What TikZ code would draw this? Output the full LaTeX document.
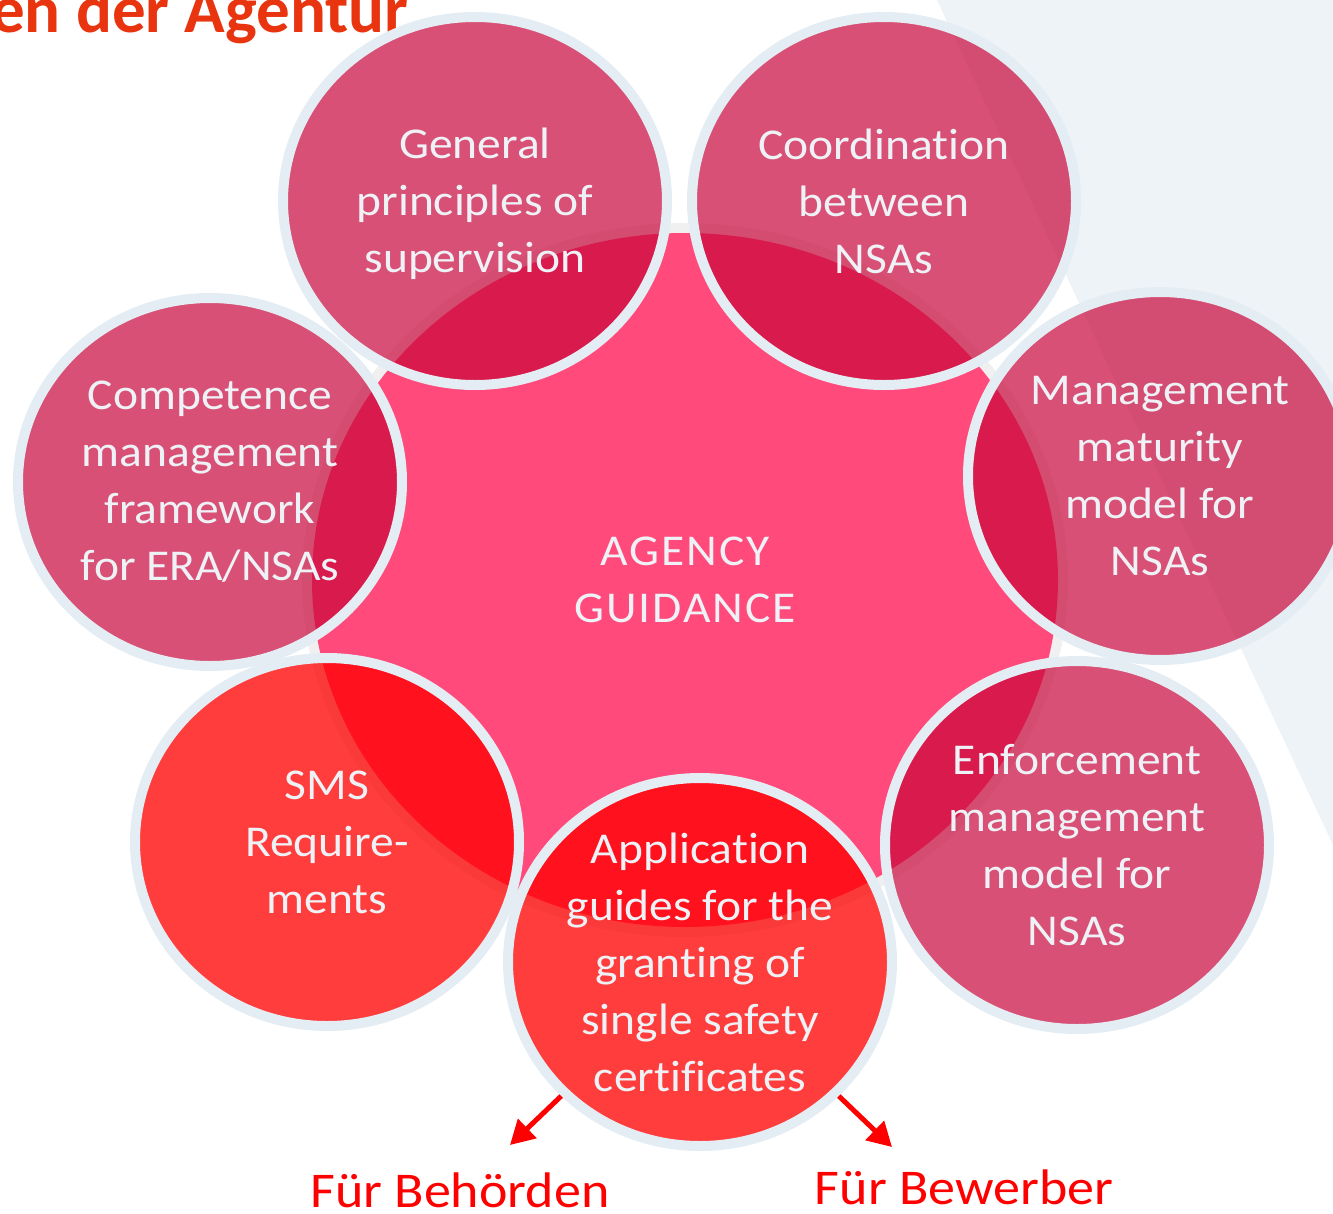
\documentclass[tikz,border=0pt]{standalone}
\usepackage{fontspec}
\setmainfont{Carlito}
\newfontfamily\bubfont[FakeStretch=1.08, Ligatures=NoCommon]{Carlito}
\usetikzlibrary{arrows.meta, shapes.geometric}

\definecolor{guidepink}{RGB}{255,74,123}
\definecolor{bubblerose}{RGB}{200,6,58}
\definecolor{bubblered}{RGB}{255,0,0}
\definecolor{rimgrey}{RGB}{228,237,243}
\definecolor{paletext}{RGB}{238,242,246}
\definecolor{backpale}{RGB}{238,243,247}
\definecolor{titleorange}{RGB}{232,52,15}

\begin{document}
\begin{tikzpicture}[x=1pt, y=-1pt, >={Triangle[length=24pt,width=26pt]},
  bubble/.style={ellipse, minimum width=384pt, minimum height=368pt, inner sep=0pt,
    draw=rimgrey, line width=10pt, fill=bubblerose, fill opacity=0.7},
  redbubble/.style={bubble, fill=bubblered, fill opacity=0.76},
  bubtext/.style={align=center, text=paletext, inner sep=0pt,
    font=\bubfont\fontsize{44}{57}\selectfont},
  flowarrow/.style={->, draw=bubblered, line width=5pt},
  outlabel/.style={anchor=base, text=bubblered, inner sep=0pt,
    font=\bubfont\fontsize{50}{50}\selectfont}]
  \useasboundingbox (0,0) rectangle (1333,1213);
  \clip (0,0) rectangle (1333,1213);

  % pale wedge at the right
  \fill[backpale] (937,0) -- (1333,0) -- (1333,845) -- cycle;
  % heading, cut at the top
  \node[anchor=base west, inner sep=0pt, text=titleorange,
    font=\bfseries\fontsize{67}{67}\selectfont] (heading) at (-9,32) {en der Agentur};

  % central disc with its soft rim
  \draw[black, draw opacity=0.06, line width=10pt] (685,580) ellipse [x radius=378, y radius=352];
  \fill[guidepink] (685,580) ellipse [x radius=373, y radius=347];

  % surrounding bubbles, clockwise from the top
  \node[bubble] (general) at (475,201) {};
  \node[bubble] (coord) at (884,201) {};
  \node[bubble] (maturity) at (1160,476) {};
  \node[bubble] (enforce) at (1077,845) {};
  \node[bubble] (compet) at (210,482) {};
  \node[redbubble] (sms) at (327,842) {};
  \node[redbubble] (appl) at (700,962) {};

  % texts
  \node[bubtext, font=\bubfont\fontsize{44}{57}\selectfont\addfontfeature{LetterSpace=4.5}]
    (agency) at (685,580) {AGENCY\\GUIDANCE};
  \node[bubtext] at ([yshift=-3pt]general) {General\\principles of\\supervision};
  \node[bubtext] at (coord) {Coordination\\between\\NSAs};
  \node[bubtext] at (maturity) {Management\\maturity\\model for\\NSAs};
  \node[bubtext] at (enforce) {Enforcement\\management\\model for\\NSAs};
  \node[bubtext] at (compet) {Competence\\management\\framework\\for ERA/NSAs};
  \node[bubtext] at (sms) {SMS\\Require-\\ments};
  \node[bubtext] at (appl) {Application\\guides for the\\granting of\\single safety\\certificates};

  % the two audiences
  \coordinate (behtip) at (510,1145);
  \coordinate (bewtip) at (892,1147);
  \draw[flowarrow] (appl.224) -- (behtip);
  \draw[flowarrow] (appl.-44) -- (bewtip);
  \node[outlabel] (behoerden) at (460,1207) {Für Behörden};
  \node[outlabel] (bewerber) at (964,1204) {Für Bewerber};
\end{tikzpicture}
\end{document}
